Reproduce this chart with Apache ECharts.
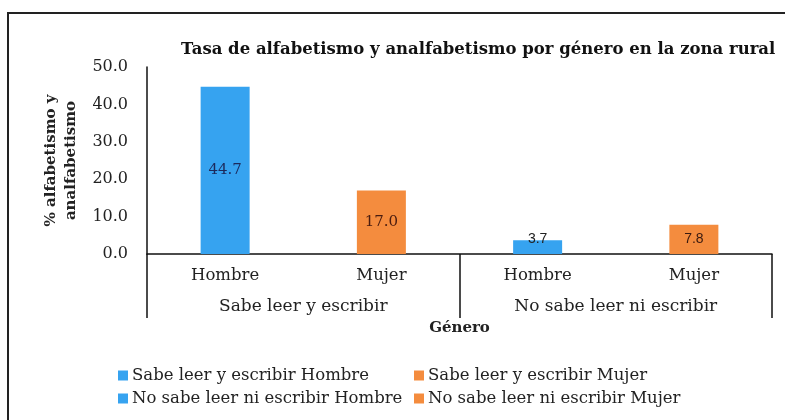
<!DOCTYPE html>
<html>
<head>
<meta charset="utf-8">
<script src="https://cdn.jsdelivr.net/npm/echarts@6/dist/echarts.min.js"></script>
<style>
  html, body { margin: 0; padding: 0; background: #fff; }
  #chart { width: 785px; height: 420px; }
</style>
</head>
<body>
<div id="chart"></div>
<script>
// datos
const categorias = ["Hombre", "Mujer", "Hombre", "Mujer"];
const grupos = ["Sabe leer y escribir", "No sabe leer ni escribir"];
const seriesNombres = [
  "Sabe leer y escribir Hombre",
  "Sabe leer y escribir Mujer",
  "No sabe leer ni escribir Hombre",
  "No sabe leer ni escribir Mujer"
];
const sabeHombre = [44.7, null, null, null];
const sabeMujer = [null, 17.0, null, null];
const noSabeHombre = [null, null, 3.7, null];
const noSabeMujer = [null, null, null, 7.8];

const azul = "#36a3f0";
const naranja = "#f48c3e";
const serif = "DejaVu Serif";

const chart = echarts.init(document.getElementById("chart"));

const barra = (name, data, color, labelOpt) => ({
  name: name,
  type: "bar",
  data: data,
  barWidth: 49,
  barGap: "-100%",
  itemStyle: { color: color },
  label: Object.assign({
    show: true,
    position: "inside",
    fontFamily: serif,
    fontSize: 15,
    formatter: p => p.value.toFixed(1)
  }, labelOpt),
  animation: false
});

const leyenda = (items, left) => ({
  data: items,
  orient: "vertical",
  left: left,
  top: 362,
  itemWidth: 10,
  itemHeight: 10,
  itemGap: 6,
  icon: "rect",
  textStyle: { fontFamily: serif, fontSize: 16.5, color: "#222", padding: [0, 0, 0, -1] }
});

const option = {
  backgroundColor: "#fff",
  title: {
    text: "Tasa de alfabetismo y analfabetismo por género en la zona rural",
    left: 176,
    top: 36,
    textStyle: { fontFamily: serif, fontSize: 16.5, fontWeight: "bold", color: "#111" }
  },
  grid: { left: 147, right: 13, top: 67, bottom: 166 },
  legend: [
    leyenda([seriesNombres[0], seriesNombres[2]], 113),
    leyenda([seriesNombres[1], seriesNombres[3]], 409)
  ],
  xAxis: [
    {
      type: "category",
      data: categorias,
      axisLine: { lineStyle: { color: "#111", width: 1.5 } },
      axisTick: { show: false },
      axisLabel: { margin: 13, fontFamily: serif, fontSize: 16.5, color: "#222" }
    },
    {
      type: "category",
      data: grupos,
      position: "bottom",
      axisLine: { show: false },
      axisTick: { show: true, length: 64, interval: 0, lineStyle: { color: "#111", width: 1.5 } },
      axisLabel: { margin: 44, fontFamily: serif, fontSize: 17, color: "#222" },
      name: "Género",
      nameLocation: "middle",
      nameGap: 67,
      nameTextStyle: { fontFamily: serif, fontSize: 15, fontWeight: "bold", color: "#222" }
    }
  ],
  yAxis: {
    type: "value",
    min: 0,
    max: 50,
    interval: 10,
    axisLine: { show: true, lineStyle: { color: "#111", width: 1.5 } },
    axisTick: { show: false },
    splitLine: { show: false },
    axisLabel: {
      margin: 19,
      fontFamily: serif,
      fontSize: 16,
      color: "#222",
      formatter: v => v.toFixed(1)
    },
    name: "% alfabetismo y\nanalfabetismo",
    nameLocation: "middle",
    nameRotate: 90,
    nameGap: 64,
    nameTextStyle: { fontFamily: serif, fontSize: 15, fontWeight: "bold", color: "#222", lineHeight: 20 }
  },
  graphic: [
    {
      type: "rect",
      shape: { x: 8, y: 13, width: 800, height: 430 },
      style: { fill: "none", stroke: "#222", lineWidth: 2 },
      silent: true
    }
  ],
  series: [
    barra(seriesNombres[0], sabeHombre, azul, { color: "#1c2a5c" }),
    barra(seriesNombres[1], sabeMujer, naranja, { color: "#4a1c10" }),
    barra(seriesNombres[2], noSabeHombre, azul, { position: "top", distance: -6, color: "#222", fontFamily: "Liberation Sans", fontSize: 14 }),
    barra(seriesNombres[3], noSabeMujer, naranja, { color: "#3a1a10", fontFamily: "Liberation Sans", fontSize: 14 })
  ]
};

chart.setOption(option);
</script>
</body>
</html>
